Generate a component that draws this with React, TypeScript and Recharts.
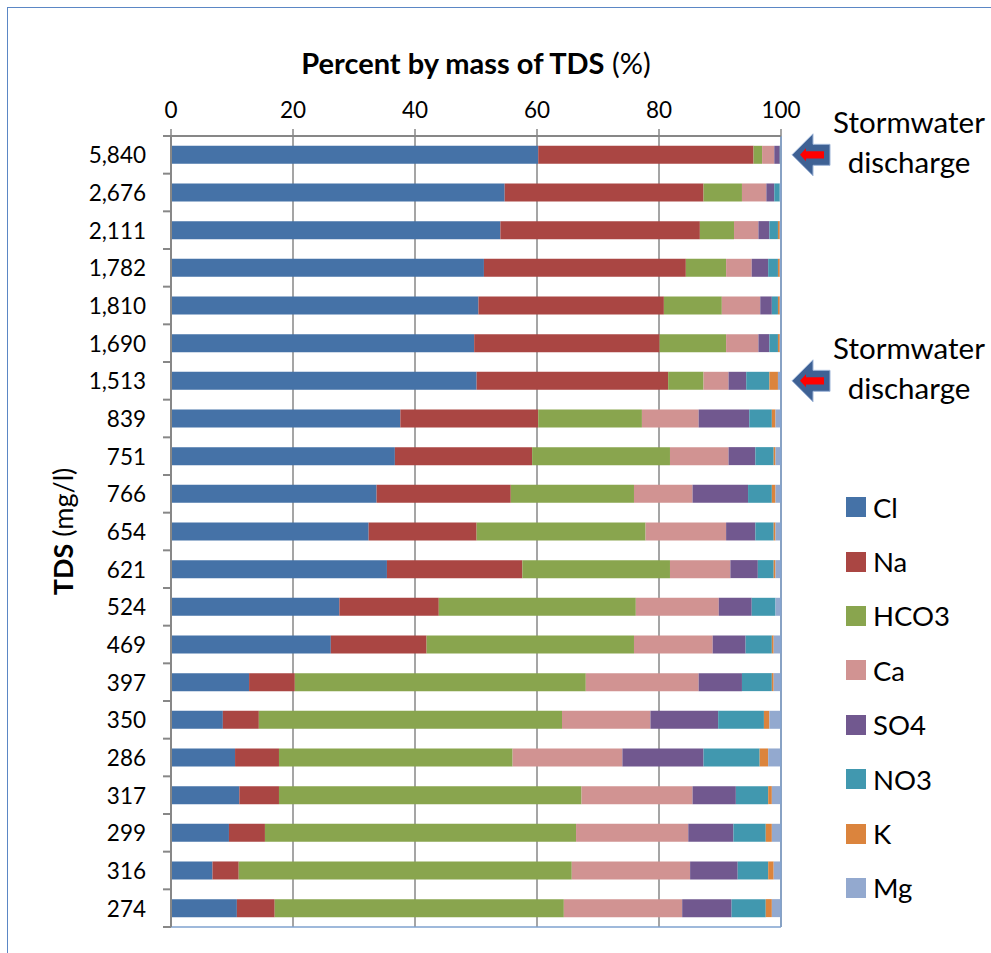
import React from "react"
import {
  Bar,
  BarChart,
  CartesianGrid,
  Label,
  ReferenceDot,
  ReferenceLine,
  XAxis,
  YAxis,
} from "recharts"

// TDS of each sample (mg/l), top row first
const tds = [
  "5,840", "2,676", "2,111", "1,782", "1,810", "1,690", "1,513", "839", "751", "766", "654",
  "621", "524", "469", "397", "350", "286", "317", "299", "316", "274",
]

// percent by mass of TDS
const cl = [60.2, 54.7, 54.0, 51.3, 50.4, 49.7, 50.1, 37.6, 36.7, 33.7, 32.4, 35.4, 27.6, 26.2, 12.8, 8.5, 10.5, 11.2, 9.5, 6.8, 10.8]
const na = [35.3, 32.6, 32.7, 33.1, 30.4, 30.4, 31.4, 22.6, 22.5, 22.0, 17.7, 22.2, 16.3, 15.7, 7.5, 5.9, 7.2, 6.5, 5.9, 4.3, 6.2]
const hco3 = [1.4, 6.3, 5.6, 6.6, 9.5, 10.9, 5.8, 17.0, 22.6, 20.2, 27.7, 24.2, 32.3, 34.0, 47.7, 49.7, 38.3, 49.6, 51.0, 54.6, 47.4]
const ca = [2.0, 4.0, 4.0, 4.2, 6.3, 5.3, 4.1, 9.3, 9.6, 9.6, 13.2, 9.9, 13.6, 12.9, 18.5, 14.5, 18.0, 18.2, 18.4, 19.4, 19.4]
const so4 = [0.9, 1.3, 1.8, 2.7, 1.9, 1.8, 2.9, 8.3, 4.4, 9.1, 4.8, 4.5, 5.4, 5.4, 7.1, 11.1, 13.3, 7.1, 7.4, 7.8, 8.1]
const no3 = [0.1, 0.9, 1.4, 1.6, 1.0, 1.4, 3.8, 3.7, 3.0, 3.9, 3.0, 2.6, 3.9, 4.3, 4.9, 7.5, 9.2, 5.3, 5.3, 5.0, 5.6]
const k = [0.05, 0.0, 0.3, 0.3, 0.3, 0.3, 1.4, 0.6, 0.3, 0.6, 0.3, 0.3, 0.0, 0.3, 0.3, 0.9, 1.4, 0.6, 1.0, 0.9, 1.0]
const mg = [0.05, 0.2, 0.2, 0.2, 0.2, 0.2, 0.5, 0.9, 0.9, 0.9, 0.9, 0.9, 0.9, 1.2, 1.2, 1.9, 2.1, 1.5, 1.5, 1.2, 1.5]

const xTicks = [0, 20, 40, 60, 80, 100]
const stormwaterRows = ["5,840", "1,513"]

const series = [
  { key: "Cl", values: cl, color: "#4572A7" },
  { key: "Na", values: na, color: "#AA4643" },
  { key: "HCO3", values: hco3, color: "#89A54E" },
  { key: "Ca", values: ca, color: "#D19392" },
  { key: "SO4", values: so4, color: "#71588F" },
  { key: "NO3", values: no3, color: "#4198AF" },
  { key: "K", values: k, color: "#DB843D" },
  { key: "Mg", values: mg, color: "#93A9CF" },
]

const data = tds.map((label, i) => {
  const row: any = { tds: label }
  series.forEach((s) => (row[s.key] = s.values[i]))
  return row
})

const FONT = "Lato, 'Open Sans', sans-serif"
const W = 991
const H = 953
const PLOT_TOP = 136
const PLOT_BOTTOM = 927
const HALF_BAND = (PLOT_BOTTOM - PLOT_TOP) / tds.length / 2
const GRID = "#878787"

const YTick = (props: any) => {
  const { x, y, payload, index } = props
  const last = index === tds.length - 1
  return (
    <g>
      <text x={x} y={y} textAnchor="end" dominantBaseline="central" fontFamily={FONT} fontSize={22.5} fill="#000">
        {payload.value}
      </text>
      <line x1={x + 17} x2={x + 25} y1={y - HALF_BAND} y2={y - HALF_BAND} stroke={GRID} strokeWidth={2} />
      {last && <line x1={x + 17} x2={x + 25} y1={y + HALF_BAND} y2={y + HALF_BAND} stroke={GRID} strokeWidth={2} />}
    </g>
  )
}

const Stormwater = ({ cx, cy }: any) => (
  <g>
    <path
      d={`M${cx + 11},${cy} L${cx + 32},${cy - 21} L${cx + 32},${cy - 10.5} L${cx + 49},${cy - 10.5} L${cx + 49},${cy + 10.5} L${cx + 32},${cy + 10.5} L${cx + 32},${cy + 21} Z`}
      fill="#3E6194"
      stroke="#9FB6D8"
      strokeWidth={1}
    />
    <path
      d={`M${cx + 19},${cy} L${cx + 25},${cy - 6.5} L${cx + 25},${cy - 3.7} L${cx + 43},${cy - 3.7} L${cx + 43},${cy + 3.7} L${cx + 25},${cy + 3.7} L${cx + 25},${cy + 6.5} Z`}
      fill="#FF0000"
    />
    <text x={cx + 128} y={cy - 33} textAnchor="middle" dominantBaseline="central" fontFamily={FONT} fontSize={29.5} fill="#000">
      Stormwater
    </text>
    <text x={cx + 128} y={cy + 7} textAnchor="middle" dominantBaseline="central" fontFamily={FONT} fontSize={29.5} fill="#000">
      discharge
    </text>
  </g>
)

export default function App() {
  return (
    <div style={{ position: "absolute", left: 0, top: 0, width: W, height: H, overflow: "hidden", background: "#fff" }}>
      <div
        style={{
          position: "absolute",
          left: 7,
          top: 7,
          width: W + 20,
          height: H + 20,
          border: "1.5px solid #5B87C5",
        }}
      />
      <BarChart
        width={W}
        height={H}
        data={data}
        layout="vertical"
        barCategoryGap="26%"
        margin={{ top: 100, right: 210, left: 71, bottom: 25 }}
        style={{ position: "absolute", left: 0, top: 0 }}
      >
        <CartesianGrid horizontal={false} stroke={GRID} strokeWidth={1.5} />
        <XAxis
          type="number"
          orientation="top"
          domain={[0, 100]}
          ticks={xTicks}
          allowDataOverflow
          height={36}
          tickSize={7}
          tickMargin={11}
          tickLine={{ stroke: GRID, strokeWidth: 1.5 }}
          axisLine={{ stroke: GRID, strokeWidth: 2 }}
          tick={{ fill: "#000", fontSize: 22.5, fontFamily: FONT }}
        >
          <Label
            content={({ viewBox }: any) => (
              <text
                x={viewBox.x + viewBox.width / 2}
                y={viewBox.y - 38}
                textAnchor="middle"
                dominantBaseline="central"
                fontFamily={FONT}
                fontSize={29}
                fill="#000"
              >
                <tspan fontWeight="bold">Percent by mass of TDS</tspan>
                <tspan> (%)</tspan>
              </text>
            )}
          />
        </XAxis>
        <XAxis
          xAxisId="frame"
          type="number"
          orientation="bottom"
          domain={[0, 100]}
          height={1}
          tick={false}
          tickLine={false}
          axisLine={{ stroke: "#7FA2CF", strokeWidth: 1.5 }}
        />
        <YAxis
          type="category"
          dataKey="tds"
          width={100}
          interval={0}
          tickSize={8}
          tickMargin={17}
          tickLine={false}
          axisLine={{ stroke: GRID, strokeWidth: 2 }}
          tick={<YTick />}
        >
          <Label
            content={({ viewBox }: any) => {
              const cx = viewBox.x - 9
              const cy = viewBox.y + viewBox.height / 2
              return (
                <text
                  x={cx}
                  y={cy}
                  transform={`rotate(-90 ${cx} ${cy})`}
                  textAnchor="middle"
                  dominantBaseline="central"
                  fontFamily={FONT}
                  fontSize={27}
                  fill="#000"
                >
                  <tspan fontWeight="bold">TDS</tspan>
                  <tspan> (mg/l)</tspan>
                </text>
              )
            }}
          />
        </YAxis>
        {series.map((s) => (
          <Bar key={s.key} dataKey={s.key} stackId="a" fill={s.color} isAnimationActive={false} />
        ))}
        <ReferenceLine x={100} stroke="#7FA2CF" strokeWidth={1.5} />
        {stormwaterRows.map((r) => (
          <ReferenceDot
            key={r}
            x={100}
            y={r}
            r={0}
            ifOverflow="visible"
            shape={(p: any) => <Stormwater cx={p.cx} cy={p.cy} />}
          />
        ))}
      </BarChart>
      <div style={{ position: "absolute", left: 846, top: 480, fontFamily: FONT, fontSize: 27.5, color: "#000" }}>
        {series.map((s) => (
          <div key={s.key} style={{ display: "flex", alignItems: "center", height: 54.4 }}>
            <div style={{ width: 20, height: 20, background: s.color, marginRight: 7 }} />
            <span>{s.key}</span>
          </div>
        ))}
      </div>
    </div>
  )
}
